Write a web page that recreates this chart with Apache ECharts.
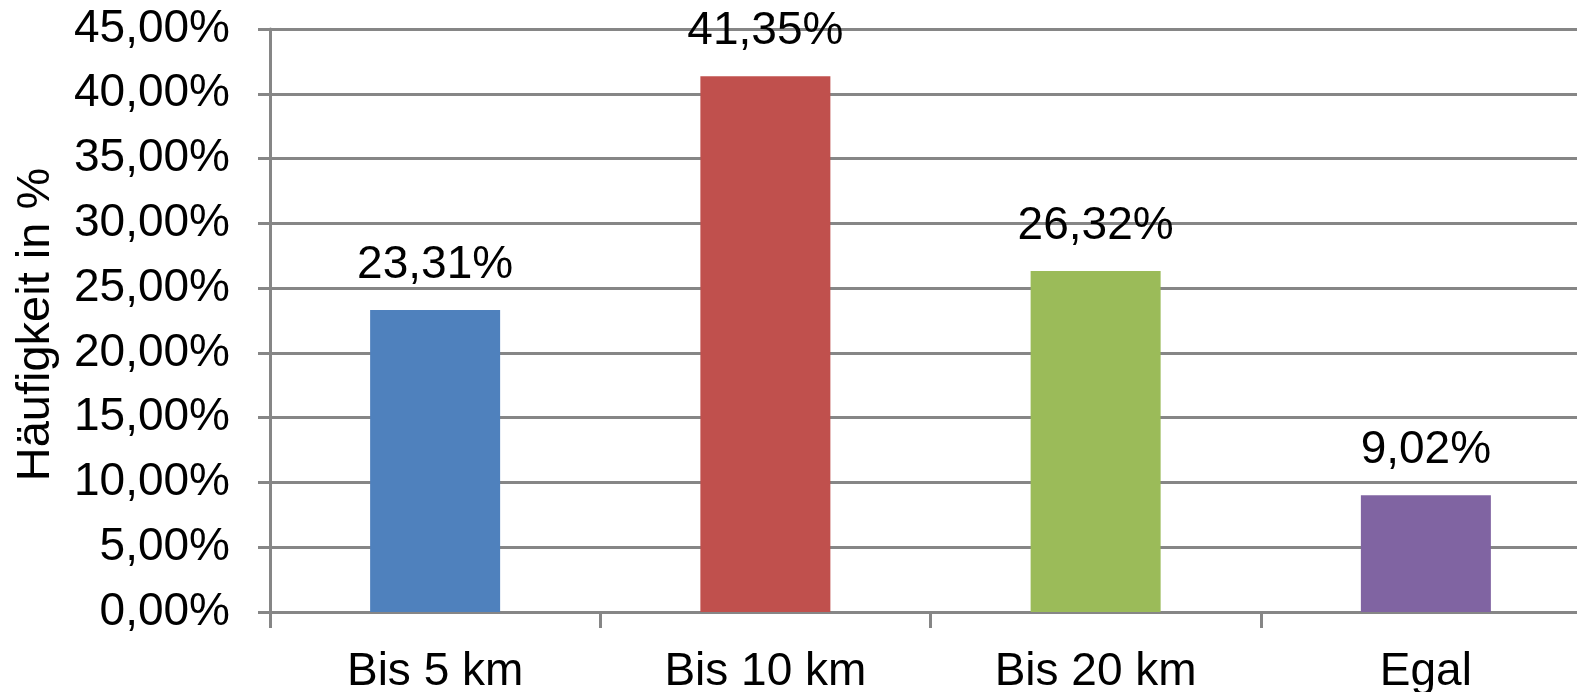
<!DOCTYPE html>
<html>
<head>
<meta charset="utf-8">
<script src="https://cdn.jsdelivr.net/npm/echarts@6/dist/echarts.min.js"></script>
<style>
html,body{margin:0;padding:0;background:#fff;}
#chart{width:1577px;height:692px;}
</style>
</head>
<body>
<div id="chart"></div>
<script>
const categories = ['Bis 5 km', 'Bis 10 km', 'Bis 20 km', 'Egal'];
const values = [23.31, 41.35, 26.32, 9.02];
const barColors = ['#4F81BD', '#C0504D', '#9BBB59', '#8064A2'];
const yAxisName = 'Häufigkeit in %';

const fmt = v => v.toFixed(2).replace('.', ',') + '%';
const FONT = 'Liberation Sans, Arial, sans-serif';
const GRID = '#868686';

const chart = echarts.init(document.getElementById('chart'));
chart.setOption({
  animation: false,
  grid: { left: 270, top: 29, width: 1321, height: 583, containLabel: false, outerBoundsMode: 'none' },
  xAxis: {
    type: 'category',
    data: categories,
    boundaryGap: true,
    axisLine: { show: true, lineStyle: { color: GRID, width: 3 } },
    axisTick: { show: true, length: 16, lineStyle: { color: GRID, width: 3 } },
    axisLabel: { color: '#000', fontSize: 46, fontFamily: FONT, margin: 37 }
  },
  yAxis: {
    type: 'value',
    min: 0, max: 45, interval: 5,
    name: yAxisName,
    nameLocation: 'middle',
    nameRotate: 90,
    nameGap: 210,
    nameTextStyle: { color: '#000', fontSize: 47, fontFamily: FONT, padding: [0, 8, 0, 0] },
    axisLine: { show: true, lineStyle: { color: GRID, width: 3 } },
    axisTick: { show: true, length: 12, lineStyle: { color: GRID, width: 3 } },
    splitLine: { show: true, lineStyle: { color: GRID, width: 3 } },
    axisLabel: { color: '#000', fontSize: 46, fontFamily: FONT, margin: 40, formatter: v => fmt(v) }
  },
  series: [{
    type: 'bar',
    barWidth: 130,
    data: values.map((v, i) => ({ value: v, itemStyle: { color: barColors[i] } })),
    label: {
      show: true, position: 'top', distance: 22,
      color: '#000', fontSize: 46, fontFamily: FONT,
      formatter: p => fmt(p.value)
    }
  }]
});
</script>
</body>
</html>
